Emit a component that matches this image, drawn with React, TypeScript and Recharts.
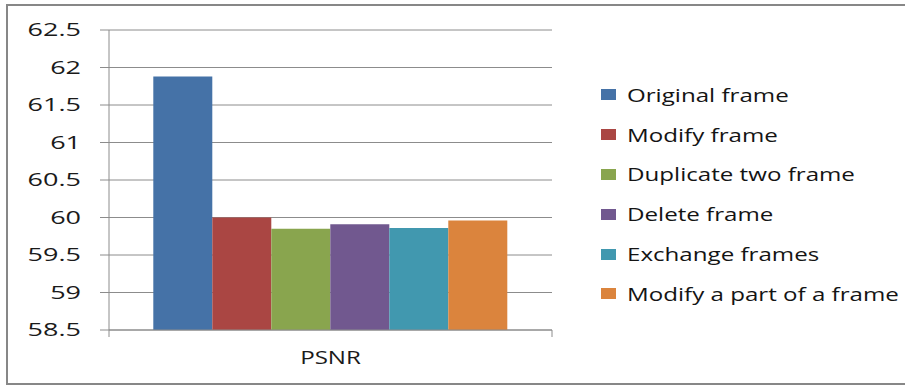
import React from 'react';
import { BarChart, Bar, XAxis, YAxis, CartesianGrid } from 'recharts';

// PSNR per tampering type
const categories = ['PSNR'];
const originalFrame = [61.88];
const modifyFrame = [60.0];
const duplicateTwoFrame = [59.85];
const deleteFrame = [59.91];
const exchangeFrames = [59.86];
const modifyPartOfFrame = [59.96];

const seriesNames = [
  'Original frame',
  'Modify frame',
  'Duplicate two frame',
  'Delete frame',
  'Exchange frames',
  'Modify a part of a frame',
];
const seriesValues = [originalFrame, modifyFrame, duplicateTwoFrame, deleteFrame, exchangeFrames, modifyPartOfFrame];
const seriesColors = ['#4572A7', '#AA4643', '#89A54E', '#71588F', '#4198AF', '#DB843D'];

const yTicks = [58.5, 59, 59.5, 60, 60.5, 61, 61.5, 62, 62.5];

const W = 905;
const H = 385;
const PLOT_LEFT = 109;
const PLOT_RIGHT = 552;
const PLOT_TOP = 30;
const PLOT_BOTTOM = 330;
const AXIS_COLOR = '#8c8c8c';
const FONT = '"Open Sans", Lato, sans-serif';
// the text is drawn horizontally widened
const AXIS_STRETCH = 1.5;
const TEXT_STRETCH = 1.34;

const data = categories.map((name, i) => {
  const row: Record<string, string | number> = { name };
  seriesNames.forEach((s, k) => {
    row[s] = seriesValues[k][i];
  });
  return row;
});

const YTick = ({ x, y, payload }: any) => (
  <g transform={`translate(${x},${y})`}>
    <text
      transform={`scale(${AXIS_STRETCH},1)`}
      textAnchor="end"
      dy={6}
      fontFamily={FONT}
      fontSize={18}
      fill="#1a1a1a"
    >
      {String(payload.value)}
    </text>
  </g>
);

const XTick = ({ x, payload }: any) => {
  const half = (PLOT_RIGHT - PLOT_LEFT) / 2;
  return (
    <g>
      <line x1={x - half} x2={x - half} y1={PLOT_BOTTOM} y2={PLOT_BOTTOM + 7} stroke={AXIS_COLOR} />
      <line x1={x + half} x2={x + half} y1={PLOT_BOTTOM} y2={PLOT_BOTTOM + 7} stroke={AXIS_COLOR} />
      <g transform={`translate(${x},${PLOT_BOTTOM + 34})`}>
        <text transform={`scale(${TEXT_STRETCH},1)`} textAnchor="middle" fontFamily={FONT} fontSize={18} fill="#1a1a1a">
          {payload.value}
        </text>
      </g>
    </g>
  );
};

const LegendBox = () => (
  <div style={{ position: 'absolute', left: 601, top: 75, fontFamily: FONT }}>
    {seriesNames.map((name, i) => (
      <div key={name} style={{ display: 'flex', alignItems: 'center', height: 39.8 }}>
        <div style={{ width: 15, height: 11, background: seriesColors[i], marginRight: 11 }} />
        <span
          style={{
            fontSize: 18,
            color: '#141414',
            whiteSpace: 'nowrap',
            display: 'inline-block',
            transform: `scaleX(${TEXT_STRETCH})`,
            transformOrigin: 'left center',
          }}
        >
          {name}
        </span>
      </div>
    ))}
  </div>
);

export default function App() {
  return (
    <div style={{ position: 'absolute', left: 0, top: 0, width: W, height: H, overflow: 'hidden', background: '#fff' }}>
      <div
        style={{
          position: 'absolute',
          left: 6,
          top: 4,
          right: -10,
          bottom: 0,
          border: '2px solid #878787',
          borderRight: 'none',
        }}
      />
      <BarChart
        width={W}
        height={H}
        data={data}
        margin={{ top: PLOT_TOP, right: W - PLOT_RIGHT, bottom: 0, left: 0 }}
        barCategoryGap="10%"
        barGap={0}
      >
        <CartesianGrid vertical={false} stroke={AXIS_COLOR} />
        <XAxis
          dataKey="name"
          height={H - PLOT_BOTTOM}
          axisLine={{ stroke: AXIS_COLOR }}
          tickLine={false}
          tick={<XTick />}
        />
        <YAxis
          width={PLOT_LEFT}
          domain={[58.5, 62.5]}
          ticks={yTicks}
          interval={0}
          allowDataOverflow
          axisLine={{ stroke: AXIS_COLOR }}
          tickLine={{ stroke: AXIS_COLOR }}
          tickSize={9}
          tickMargin={19}
          tick={<YTick />}
        />
        {seriesNames.map((name, i) => (
          <Bar key={name} dataKey={name} fill={seriesColors[i]} isAnimationActive={false} />
        ))}
      </BarChart>
      <LegendBox />
    </div>
  );
}
